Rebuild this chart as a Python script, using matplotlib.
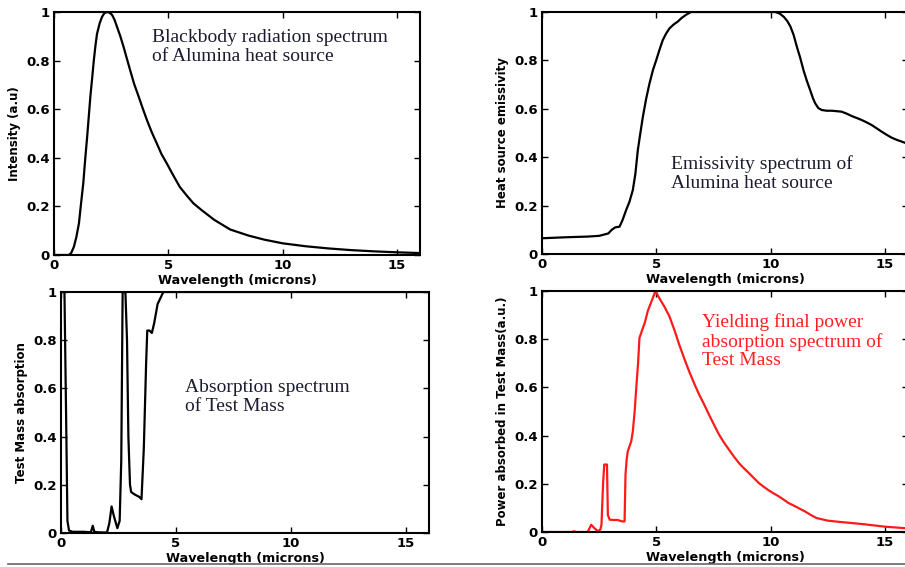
import numpy as np
import matplotlib.pyplot as plt
from matplotlib.lines import Line2D

# blackbody spectrum of the alumina heat source
wl_bb = [0, 0.6, 0.65, 0.75, 0.87, 0.98, 1.09, 1.18, 1.28, 1.36, 1.45, 1.52, 1.59, 1.67,
         1.74, 1.81, 1.88, 2.0, 2.1, 2.2, 2.32, 2.43, 2.54, 2.65, 2.75, 2.9, 3.04,
         3.18, 3.33, 3.5, 3.7, 3.88, 4.06, 4.27, 4.49, 4.7, 4.93, 5.2, 5.5, 5.8,
         6.09, 6.45, 7.0, 7.7, 8.5, 9.2, 10.0, 11.0, 12.0, 13.0, 14.0, 15.0, 16.0]
bb = [0, 0, 0.0, 0.008, 0.034, 0.075, 0.13, 0.21, 0.295, 0.39, 0.487, 0.57, 0.652,
      0.73, 0.8, 0.86, 0.91, 0.955, 0.98, 0.995, 1.0, 0.997, 0.988, 0.967, 0.94, 0.9,
      0.857, 0.81, 0.76, 0.705, 0.652, 0.603, 0.556, 0.506, 0.46, 0.415, 0.377, 0.33,
      0.28, 0.245, 0.213, 0.185, 0.145, 0.105, 0.08, 0.063, 0.048, 0.036, 0.027,
      0.02, 0.015, 0.011, 0.008]

# emissivity of heat source
wl_em = [0, 1, 2, 2.5, 2.9, 3.05, 3.2, 3.39, 3.52, 3.68, 3.82, 3.97, 4.08, 4.19, 4.3,
         4.41, 4.55, 4.7, 4.85, 4.99, 5.14, 5.28, 5.42, 5.57, 5.75, 5.93, 6.1, 6.29,
         6.51, 8.0, 10.2, 10.4, 10.57, 10.72, 10.86, 11.0, 11.14, 11.29, 11.43, 11.58,
         11.72, 11.84, 11.94, 12.08, 12.23, 12.45, 12.67, 12.9, 13.1, 13.32, 13.54,
         13.76, 13.97, 14.19, 14.41, 14.62, 14.84, 15.06, 15.28, 15.5, 15.71, 16.0]
em = [0.065, 0.069, 0.072, 0.075, 0.085, 0.1, 0.11, 0.113, 0.14, 0.182, 0.215, 0.264,
      0.33, 0.43, 0.5, 0.567, 0.64, 0.705, 0.76, 0.8, 0.845, 0.884, 0.91, 0.932, 0.948,
      0.96, 0.975, 0.988, 1.0, 1.0, 1.0, 0.993, 0.98, 0.963, 0.94, 0.905, 0.857, 0.81,
      0.76, 0.715, 0.678, 0.645, 0.623, 0.603, 0.595, 0.592, 0.592, 0.59, 0.588, 0.58,
      0.57, 0.562, 0.554, 0.544, 0.533, 0.52, 0.506, 0.493, 0.481, 0.472, 0.465, 0.455]

# test mass absorption
wl_ab = [0, 0.05, 0.15, 0.22, 0.28, 0.35, 0.5, 1.0, 1.3, 1.38, 1.45, 1.6, 2.0, 2.1,
         2.2, 2.3, 2.45, 2.55, 2.62, 2.68, 2.75, 2.8, 2.87, 2.93, 3.0, 3.05, 3.2, 3.4,
         3.5, 3.6, 3.7, 3.75, 3.85, 3.95, 4.05, 4.2, 4.35, 4.45, 5, 16]
ab = [1.0, 1.0, 1.0, 0.5, 0.05, 0.01, 0.005, 0.005, 0.003, 0.03, 0.005, 0.003, 0.002,
      0.04, 0.11, 0.07, 0.02, 0.05, 0.3, 1.0, 1.0, 1.0, 0.8, 0.4, 0.2, 0.17, 0.16,
      0.15, 0.14, 0.35, 0.7, 0.84, 0.84, 0.83, 0.87, 0.95, 0.98, 1.0, 1.0, 1.0]

# power absorbed in test mass
wl_pw = [0, 1.3, 1.4, 1.5, 2.0, 2.1, 2.15, 2.3, 2.45, 2.55, 2.6, 2.67, 2.72, 2.84,
         2.88, 2.96, 3.1, 3.3, 3.5, 3.61, 3.65, 3.7, 3.75, 3.9, 3.97, 4.05, 4.12, 4.2,
         4.26, 4.36, 4.5, 4.62, 4.8, 4.96, 5.13, 5.35, 5.57, 5.8, 6.0, 6.21, 6.43,
         6.65, 6.87, 7.1, 7.3, 7.52, 7.74, 7.95, 8.17, 8.39, 8.61, 8.82, 9.04, 9.26,
         9.48, 9.7, 9.91, 10.13, 10.35, 10.57, 10.78, 11.0, 11.2, 11.5, 11.8, 12.0,
         12.5, 13.0, 14.0, 15.0, 16.0]
pw = [0, 0, 0.003, 0, 0, 0.02, 0.03, 0.015, 0.003, 0.01, 0.03, 0.2, 0.28, 0.28,
      0.07, 0.051, 0.05, 0.05, 0.044, 0.044, 0.238, 0.3, 0.335, 0.376, 0.417, 0.5,
      0.597, 0.7, 0.805, 0.833, 0.87, 0.916, 0.96, 1.0, 0.97, 0.935, 0.895, 0.835,
      0.777, 0.722, 0.667, 0.617, 0.57, 0.527, 0.487, 0.445, 0.404, 0.372, 0.342,
      0.313, 0.286, 0.265, 0.245, 0.224, 0.203, 0.187, 0.173, 0.16, 0.148, 0.134,
      0.12, 0.11, 0.1, 0.085, 0.068, 0.058, 0.047, 0.042, 0.033, 0.022, 0.015]

W, H = 905, 567
fig = plt.figure(figsize=(W / 100, H / 100), dpi=100)

def px_axes(l, r, t, b):
    return fig.add_axes([l / W, 1 - b / H, (r - l) / W, (b - t) / H])

axes = [px_axes(54, 420, 12, 255), px_axes(542, 908, 12, 254),
        px_axes(61, 429, 292, 533), px_axes(542, 908, 291, 532)]

data = [(wl_bb, bb, 'k'), (wl_em, em, 'k'), (wl_ab, ab, 'k'), (wl_pw, pw, '#ff1a1a')]
ylabels = ['Intensity (a.u)', 'Heat source emissivity',
           'Test Mass absorption', 'Power absorbed in Test Mass(a.u.)']

for ax, (x, y, c), yl in zip(axes, data, ylabels):
    ax.plot(x, y, color=c, lw=1.6)
    ax.set_xlim(0, 16)
    ax.set_ylim(0, 1)
    ax.set_xticks([0, 5, 10, 15])
    ax.set_yticks([0, 0.2, 0.4, 0.6, 0.8, 1])
    ax.set_yticklabels(['0', '0.2', '0.4', '0.6', '0.8', '1'])
    ax.tick_params(direction='in', top=True, right=True, length=4, width=1,
                   labelsize=9.5, pad=3)
    for lab in ax.get_xticklabels() + ax.get_yticklabels():
        lab.set_fontweight('bold')
    for s in ax.spines.values():
        s.set_linewidth(1.5)
    ax.set_xlabel('Wavelength (microns)', fontsize=9.2, fontweight='bold', labelpad=1)
    ax.set_ylabel(yl, fontsize=8.5, fontweight='bold', labelpad=4)

serif = dict(family='Liberation Serif', fontsize=14, va='top', ha='left', linespacing=1.15)
axes[0].text(4.3, 0.93, 'Blackbody radiation spectrum\nof Alumina heat source',
             color='#1c1c30', **serif)
axes[1].text(5.65, 0.41, 'Emissivity spectrum of\nAlumina heat source',
             color='#1c1c30', **serif)
axes[2].text(5.4, 0.64, 'Absorption spectrum\nof Test Mass', color='#1c1c30', **serif)
axes[3].text(7.0, 0.91, 'Yielding final power\nabsorption spectrum of\nTest Mass',
             color='#ff2020', **serif)

fig.add_artist(Line2D([8 / W, 1], [1 - 564 / H] * 2, color='#666666', lw=1.2))

fig.savefig('out.png', dpi=100)
